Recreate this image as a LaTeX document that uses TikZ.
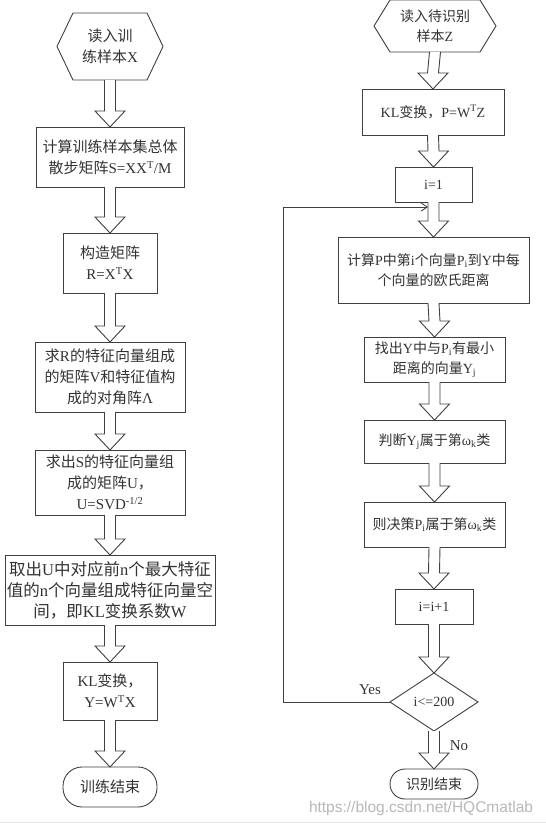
\documentclass[tikz,border=0pt]{standalone}
\usepackage{fontspec}
\setmainfont{Liberation Serif}
\newfontfamily\cjk{Noto Sans CJK SC}
\usetikzlibrary{calc,arrows.meta}
\definecolor{lc}{HTML}{404040}
\definecolor{tc}{HTML}{333333}
\newcommand\zh[1]{{\cjk #1}}
\tikzset{
  base/.style={draw=lc, line width=0.9pt, fill=white, align=center, inner sep=0pt, outer sep=0pt, text=tc, font=\fontsize{15}{21}\selectfont},
  box/.style 2 args={base, rectangle, minimum width=#1, minimum height=#2},
  ghost/.style 2 args={base, draw=none, fill=none, minimum width=#1, minimum height=#2},
  term/.style 2 args={box={#1}{#2}, rounded corners=15},
  rfont/.style={font=\fontsize{14}{20}\selectfont},
  line/.style={draw=lc, line width=0.9pt},
  arr/.style={draw=lc, line width=0.9pt, fill=white, line join=miter},
  lbl/.style={text=tc, font=\fontsize{15}{18}\selectfont, inner sep=0pt}
}
\newcommand\hexa[2]{\draw[line] (#1.west) -- ($(#1.north west)+(#2,0)$) -- ($(#1.north east)+(-#2,0)$) -- (#1.east) -- ($(#1.south east)+(-#2,0)$) -- ($(#1.south west)+(#2,0)$) -- cycle;}
\newcommand\barrow[2]{\filldraw[arr] ($(#1.south)+(-5.5,0)$) -- ($(#2.north)+(-5.5,-16)$) -- ($(#2.north)+(-15,-16)$) -- (#2.north) -- ($(#2.north)+(15,-16)$) -- ($(#2.north)+(5.5,-16)$) -- ($(#1.south)+(5.5,0)$);}
\begin{document}
\begin{tikzpicture}[x=1pt,y=-1pt]
\fill[white] (0,0) rectangle (546,825);
\useasboundingbox (0,0) rectangle (546,825);
% left column
\node[ghost={106}{67}] (h1) at (110,46.5) {\zh{读入训}\\\zh{练样本}X};
\hexa{h1}{16}
\node[box={148}{60}] (b2) at (110,157) {\zh{计算训练样本集总体}\\\zh{散步矩阵}S=XX\textsuperscript{T}/M};
\node[box={94}{60}] (b3) at (110,263) {\zh{构造矩阵}\\R=X\textsuperscript{T}X};
\node[box={150}{70}] (b4) at (110,377) {\zh{求}R\zh{的特征向量组成}\\\zh{的矩阵}V\zh{和特征值构}\\\zh{成的对角阵}Λ};
\node[box={150}{65}] (b5) at (110,482.5) {\zh{求出}S\zh{的特征向量组}\\\zh{成的矩阵}U\zh{，}\\U=SVD\textsuperscript{-1/2}};
\node[box={210}{70}, font=\fontsize{16.5}{21}\selectfont] (b6) at (110,590) {\zh{取出}U\zh{中对应前}n\zh{个最大特征}\\\zh{值的}n\zh{个向量组成特征向量空}\\\zh{间，即}KL\zh{变换系数}W};
\node[box={94}{58}] (b7) at (110,691) {KL\zh{变换，}\\Y=W\textsuperscript{T}X};
\node[term={94}{40}, rounded corners=19] (t1) at (110,787) {\zh{训练结束}};
\barrow{h1}{b2}
\barrow{b2}{b3}
\barrow{b3}{b4}
\barrow{b4}{b5}
\barrow{b5}{b6}
\barrow{b6}{b7}
\barrow{b7}{t1}
% right column
\node[ghost={122}{52}, rfont] (h2) at (435,26) {\zh{读入待识别}\\\zh{样本}Z};
\hexa{h2}{16}
\node[box={142}{46}, rfont] (r1) at (433,112) {KL\zh{变换，}P=W\textsuperscript{T}Z};
\node[box={77}{35}, rfont] (r2) at (433.5,184.5) {i=1};
\node[box={191}{66}, rfont] (r3) at (433.5,270) {\zh{计算}P\zh{中第}i\zh{个向量}P\textsubscript{i}\zh{到}Y\zh{中每}\\\zh{个向量的欧氏距离}};
\node[box={141}{45}, rfont] (r4) at (434.5,359.5) {\zh{找出}Y\zh{中与}P\textsubscript{i}\zh{有最小}\\\zh{距离的向量}Y\textsubscript{j}};
\node[box={141}{43}, rfont] (r5) at (434.5,441.5) {\zh{判断}Y\textsubscript{j}\zh{属于第}ω\textsubscript{k}\zh{类}};
\node[box={141}{45}, rfont] (r6) at (434.5,524.5) {\zh{则决策}P\textsubscript{i}\zh{属于第}ω\textsubscript{k}\zh{类}};
\node[box={78}{35}, rfont] (r7) at (434,606.5) {i=i+1};
\node[ghost={88}{58}, rfont] (d) at (434,702) {i<=200};
\draw[line] (d.north) -- (d.east) -- (d.south) -- (d.west) -- cycle;
\node[term={88}{30}, rfont] (t2) at (434,784) {\zh{识别结束}};
\barrow{h2}{r1}
\barrow{r1}{r2}
\barrow{r2}{r3}
\barrow{r3}{r4}
\barrow{r4}{r5}
\barrow{r5}{r6}
\barrow{r6}{r7}
\barrow{r7}{d}
\barrow{d}{t2}
% loop
\coordinate (lp) at ($(r2.south)+(-5.5,5)$);
\draw[line, -{Straight Barb[length=6pt,width=8pt]}] (d.west) -- ++(-107,0) |- (lp);
\node[lbl] (yes) at (370,690) {Yes};
\node[lbl] (no) at (459,746) {No};
% watermark
\node[text=black!28, font=\fontspec{Liberation Sans}\fontsize{15.5}{18}\selectfont, inner sep=0pt] (wm) at (421,808) {https://blog.csdn.net/HQCmatlab};
\draw[black!10, line width=0.8pt] (0,822) -- (546,822);
\end{tikzpicture}
\end{document}
